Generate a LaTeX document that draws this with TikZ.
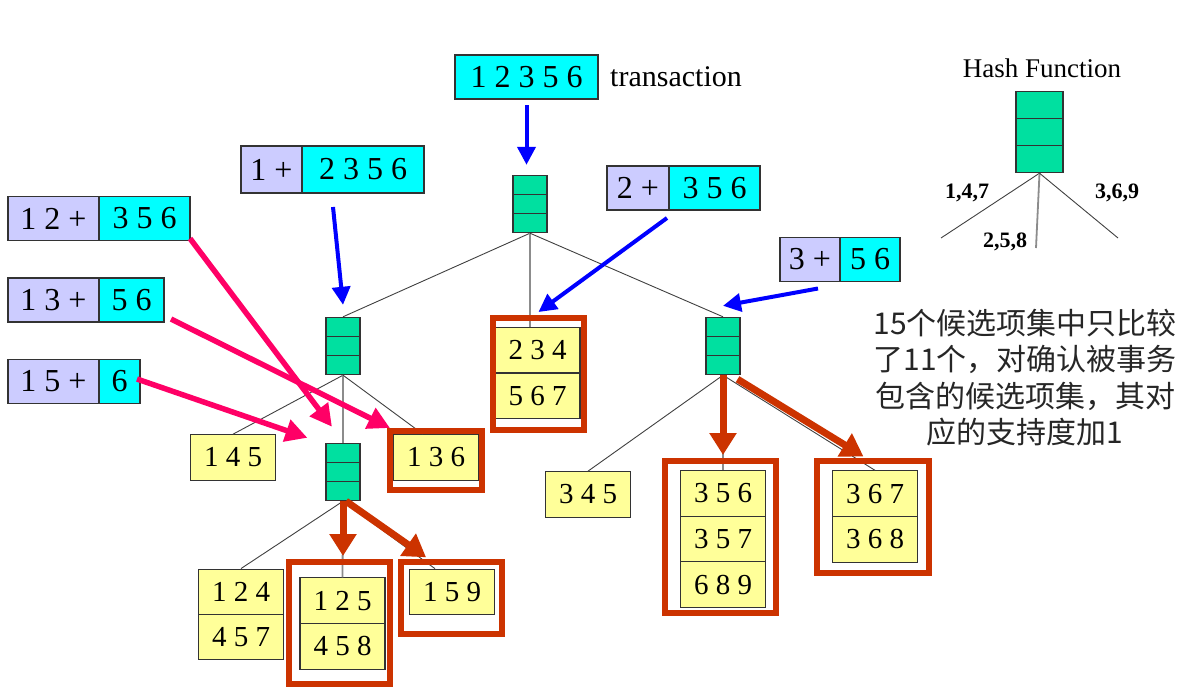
\documentclass[tikz,border=0pt]{standalone}
\usepackage{fontspec}
\setmainfont{Liberation Serif}
\newfontfamily\cjk{Noto Sans CJK SC}
\usetikzlibrary{arrows.meta,positioning,shapes.multipart}
\definecolor{HashGreen}{RGB}{0,224,160}
\definecolor{LeafYellow}{RGB}{255,255,153}
\definecolor{ItemLavender}{RGB}{204,204,255}
\definecolor{ItemCyan}{RGB}{0,255,255}
\definecolor{FrameRed}{RGB}{204,51,0}
\definecolor{ArrowPink}{RGB}{255,0,102}
\definecolor{BoxBorder}{RGB}{51,51,51}

\begin{document}
\begin{tikzpicture}[x=1pt, y=-1pt,
      every node/.append style={font=\fontsize{29}{34}\selectfont, text=black},
      hash/.style={rectangle split, rectangle split parts=3, draw=BoxBorder, fill=HashGreen, line width=1.1pt,
        inner sep=0pt, minimum width=34pt, rectangle split empty part height=18pt,
        rectangle split empty part depth=0pt, rectangle split empty part width=0pt},
      leaf/.style={rectangle split, rectangle split parts=1, draw=BoxBorder, fill=LeafYellow, line width=1.1pt,
        minimum width=85pt, inner ysep=12.5pt},
      front/.style={draw=BoxBorder, fill=ItemLavender, line width=1.1pt, inner sep=0pt, outer sep=0pt,
        minimum height=44pt, font=\fontsize{32}{38}\selectfont},
      rest/.style={front, fill=ItemCyan},
      tree/.style={draw=black!75, line width=0.9pt},
      stem/.style={draw=black!45, line width=1.8pt}]
      \tikzstyle{hit} = [draw=FrameRed, line width=6pt, inner sep=0pt]
      \tikzstyle{lookup} = [-{Triangle[length=18pt,width=18pt]}, draw=blue, line width=4pt]
      \tikzstyle{subset} = [-{Triangle[length=22pt,width=22pt]}, draw=ArrowPink, line width=5.5pt]
      \tikzstyle{visit} = [-{Triangle[length=22pt,width=26pt]}, draw=FrameRed, line width=7pt, shorten >=3pt]
      \tikzstyle{lab} = [font=\bfseries\fontsize{22}{26}\selectfont]
      \useasboundingbox (0,0) rectangle (1180,696);

      \node (t0) [rest, minimum width=143pt] at (526.5,77) {1 2 3 5 6};
      \node (tx) [right=12pt of t0, inner sep=0pt, font=\fontsize{30}{36}\selectfont] {transaction};
      \node (p1) [front, minimum width=61pt, minimum height=47pt] at (271.5,169.5) {1 +};
      \node (s1) [rest, minimum width=122pt, minimum height=47pt, right=0pt of p1] {2 3 5 6};
      \node (p12) [front, minimum width=91pt] at (53.5,218.5) {1 2 +};
      \node (s12) [rest, minimum width=91pt, right=0pt of p12] {3 5 6};
      \node (p13) [front, minimum width=91pt] at (53.5,300) {1 3 +};
      \node (s13) [rest, minimum width=65pt, right=0pt of p13] {5 6};
      \node (p15) [front, minimum width=91pt] at (53.5,381.5) {1 5 +};
      \node (s15) [rest, minimum width=41pt, right=0pt of p15] {6};
      \node (p2) [front, minimum width=62pt] at (638,188) {2 +};
      \node (s2) [rest, minimum width=91pt, right=0pt of p2] {3 5 6};
      \node (p3) [front, minimum width=60pt] at (810,259.5) {3 +};
      \node (s3) [rest, minimum width=60pt, right=0pt of p3] {5 6};

      \node (h1) [hash] at (530,204) {};
      \node (h2) [hash] at (343,346) {};
      \node (h3) [hash] at (723,346) {};
      \node (h4) [hash] at (343,472) {};

      \node (l145) [leaf] at (233,457.5) {1 4 5};
      \node (l136) [leaf] at (436,457.5) {1 3 6};
      \node (l124) [leaf, rectangle split parts=2] at (241,614.5) {1 2 4 \nodepart{two} 4 5 7};
      \node (l125) [leaf, rectangle split parts=2] at (342.5,623.5) {1 2 5 \nodepart{two} 4 5 8};
      \node (l159) [leaf] at (452,592) {1 5 9};
      \node (l234) [leaf, rectangle split parts=2] at (537.5,373) {2 3 4 \nodepart{two} 5 6 7};
      \node (l345) [leaf] at (588,494.5) {3 4 5};
      \node (l356) [leaf, rectangle split parts=3] at (723,539) {3 5 6 \nodepart{two} 3 5 7 \nodepart{three} 6 8 9};
      \node (l367) [leaf, rectangle split parts=2] at (875,516.5) {3 6 7 \nodepart{two} 3 6 8};

      \draw[tree] (h1.south) -- (h2.north);
      \draw[stem] (h1.south) -- (h1.south |- l234.north);
      \draw[tree] (h1.south) -- (h3.north);
      \draw[tree] (h2.south) -- (l145.north);
      \draw[stem] (h2.south) -- (h4.north);
      \draw[tree] (h2.south) -- ([xshift=-13pt]l136.north);
      \draw[tree] (h4.south) -- (l124.north);
      \draw[stem] (h4.south) -- (l125.north);
      \draw[tree] (h4.south) -- ([xshift=-17pt]l159.north);
      \draw[tree] (h3.south) -- (l345.north);
      \draw[stem] (h3.south) -- (l356.north);
      \draw[tree] (h3.south) -- (l367.north);

      \node (m136) [hit, minimum width=92pt, minimum height=59pt] at (436,460.5) {};
      \node (m125) [hit, minimum width=101pt, minimum height=122pt] at (339.5,623) {};
      \node (m159) [hit, minimum width=101pt, minimum height=72pt] at (451.5,598) {};
      \node (m234) [hit, minimum width=91pt, minimum height=112pt] at (538.5,374) {};
      \node (m356) [hit, minimum width=111pt, minimum height=152pt] at (720.5,537) {};
      \node (m367) [hit, minimum width=112pt, minimum height=112pt] at (873,517) {};

      \draw[lookup, shorten <=6pt, shorten >=10pt] (t0.south) -- (t0.south |- h1.north);
      \draw[lookup] ([shift={(-30pt,-14pt)}]s1.south) -- ([yshift=12pt]h2.north);
      \draw[lookup] ([shift={(-2pt,-8pt)}]s2.south west) -- ([yshift=3pt]m234.north);
      \draw[lookup] ([shift={(8pt,-7pt)}]p3.south) -- ([yshift=11pt]h3.north);
      \draw[subset] ([yshift=2pt]s12.south east) -- ([shift={(-11pt,16pt)}]h4.north);
      \draw[subset] ([shift={(7pt,3pt)}]s13.south east) -- ([xshift=3pt]m136.north west);
      \draw[subset] ([shift={(-3pt,2.5pt)}]s15.east) -- ([shift={(-18pt,5pt)}]h4.north west);
      \draw[visit] (h4.south) -- (h4.south |- m125.north);
      \draw[visit] ([xshift=3pt]h4.south) -- ([xshift=-23pt]m159.north);
      \draw[visit] (h3.south) -- (h3.south |- m356.north);
      \draw[visit] ([shift={(-3pt,-4pt)}]h3.south east) -- ([xshift=-7pt]m367.north);

      \node (hft) [font=\fontsize{27}{32}\selectfont] at (1042,68) {Hash Function};
      \node (hf) [hash, minimum width=47pt, rectangle split empty part height=26pt] at (1039.5,132) {};
      \coordinate (hf_a) at (941,238);
      \coordinate (hf_b) at (1036,248);
      \coordinate (hf_c) at (1118,238);
      \draw[tree] (hf.south) -- (hf_a);
      \draw[stem] (hf.south) -- (hf_b);
      \draw[tree] (hf.south) -- (hf_c);
      \node (k147) [lab] at (967,193) {1,4,7};
      \node (k258) [lab] at (1005,242) {2,5,8};
      \node (k369) [lab] at (1117,193) {3,6,9};

      \node (note) [font=\cjk\fontsize{30}{36.5}\selectfont, align=center, text=black!85] at (1025,377.5)
        {15个候选项集中只比较\\了11个，对确认被事务\\包含的候选项集，其对\\应的支持度加1};
\end{tikzpicture}
\end{document}
